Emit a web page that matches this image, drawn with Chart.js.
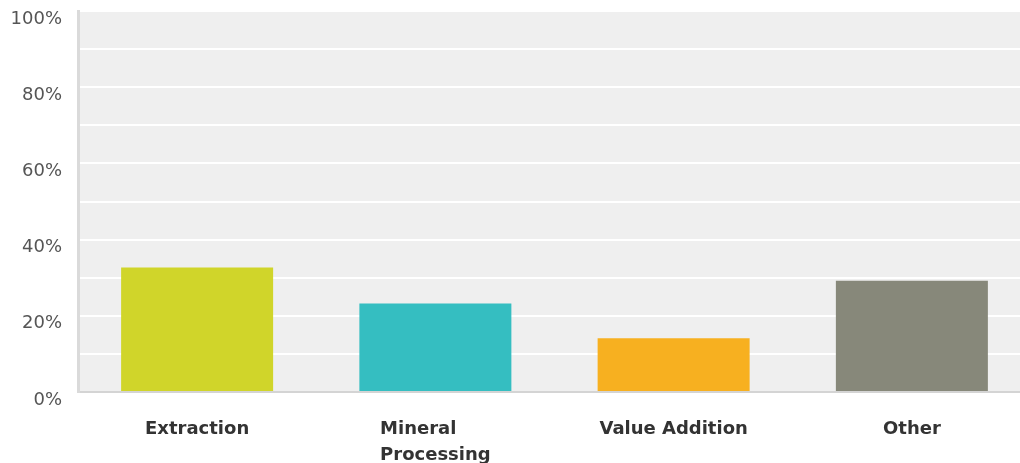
<!DOCTYPE html>
<html>
<head>
<meta charset="utf-8">
<script src="https://cdn.jsdelivr.net/npm/chart.js@4"></script>
<style>
  html, body { margin: 0; padding: 0; background: #fff; overflow: hidden; }
  #wrap { width: 1031px; height: 463px; }
</style>
</head>
<body>
<div id="wrap"><canvas id="stageChart"></canvas></div>
<script>
  const categories = [['Extraction'], ['Mineral', 'Processing'], ['Value Addition'], ['Other']];
  const shares = [32.7, 23.2, 14.1, 29.2];
  const barColors = ['#d0d52a', '#35bec1', '#f7b020', '#87887a'];
  const yTicks = [0, 20, 40, 60, 80, 100];

  // grey plot background behind the white grid lines
  const plotBg = {
    id: 'plotBg',
    beforeDraw(chart) {
      const { ctx, chartArea: a } = chart;
      ctx.save();
      ctx.fillStyle = '#efefef';
      ctx.fillRect(a.left, a.top, a.right - a.left, a.bottom - a.top);
      ctx.restore();
    }
  };

  // category labels: block centred under the bar, lines left-aligned
  const xLabels = {
    id: 'xLabels',
    afterDraw(chart) {
      const { ctx } = chart;
      const x = chart.scales.x;
      ctx.save();
      ctx.font = 'bold 18px "DejaVu Sans"';
      ctx.fillStyle = '#333';
      ctx.textBaseline = 'alphabetic';
      ctx.textAlign = 'left';
      categories.forEach((lines, i) => {
        const cx = x.getPixelForTick(i);
        const w = Math.max(...lines.map(l => ctx.measureText(l).width));
        lines.forEach((l, j) => ctx.fillText(l, cx - w / 2, 434 + j * 26));
      });
      ctx.restore();
    }
  };

  new Chart(document.getElementById('stageChart'), {
    type: 'bar',
    data: {
      labels: categories.map(c => c.join(' ')),
      datasets: [{
        data: shares,
        backgroundColor: barColors,
        borderWidth: 0,
        barPercentage: 0.638,
        categoryPercentage: 1
      }]
    },
    options: {
      responsive: true,
      maintainAspectRatio: false,
      animation: false,
      layout: { padding: { top: 11, right: 0, bottom: 0, left: 0 } },
      plugins: { legend: { display: false }, tooltip: { enabled: false } },
      scales: {
        x: {
          grid: { display: false },
          border: { color: '#d4d4d4', width: 2 },
          ticks: { display: false },
          afterFit(s) { s.height = 71; }
        },
        y: {
          min: 0,
          max: 100,
          grid: { color: '#ffffff', lineWidth: 2, drawTicks: false },
          border: { color: '#dadada', width: 3 },
          ticks: {
            stepSize: 10,
            padding: 16,
            labelOffset: 8,
            color: '#555',
            font: { family: 'DejaVu Sans', size: 18 },
            callback: v => yTicks.includes(v) ? v + '%' : ''
          },
          afterFit(s) {
            s.width = 78;
            s.paddingTop = 0;
            s.paddingBottom = 0;
          }
        }
      }
    },
    plugins: [plotBg, xLabels]
  });
</script>
</body>
</html>
